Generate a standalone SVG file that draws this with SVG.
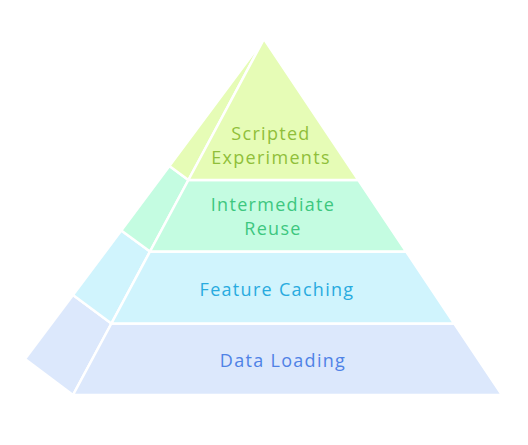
<svg xmlns="http://www.w3.org/2000/svg" width="528" height="445" viewBox="0 0 528 445">
<style>
.face{stroke:#ffffff;stroke-width:2.5;stroke-linejoin:round}
.t1{fill:#e6fcb6}.t2{fill:#c4fce1}.t3{fill:#d0f4fd}.t4{fill:#dce8fc}
text{font-family:"Open Sans","Noto Sans",sans-serif;font-size:18px;letter-spacing:1.3px;text-anchor:middle}
</style>
<rect width="528" height="445" fill="#ffffff"/>
<g id="tier-data-loading">
<polygon class="face t4" points="111.4,323.5 73,395 25,359 73,295"/>
<polygon class="face t4" points="111.4,323.5 454.2,323.5 502,395 73,395"/>
<text x="283" y="367" fill="#4f82e6">Data Loading</text>
</g>
<g id="tier-feature-caching">
<polygon class="face t3" points="150,251.5 111.4,323.5 73,295 121.3,230.5"/>
<polygon class="face t3" points="150,251.5 406.1,251.5 454.2,323.5 111.4,323.5"/>
<text x="277" y="295.5" fill="#28abdf">Feature Caching</text>
</g>
<g id="tier-intermediate-reuse">
<polygon class="face t2" points="188.4,180 150,251.5 121.3,230.5 169.4,166"/>
<polygon class="face t2" points="188.4,180 358.3,180 406.1,251.5 150,251.5"/>
<text fill="#3dc77f"><tspan x="273" y="210.5">Intermediate</tspan><tspan x="273" y="235">Reuse</tspan></text>
</g>
<g id="tier-scripted-experiments">
<polygon class="face t1" points="264,39 188.4,180 169.4,166"/>
<polygon class="face t1" points="264,39 358.3,180 188.4,180"/>
<text fill="#90bf3a"><tspan x="271" y="139.5">Scripted</tspan><tspan x="271" y="164">Experiments</tspan></text>
</g>
</svg>
